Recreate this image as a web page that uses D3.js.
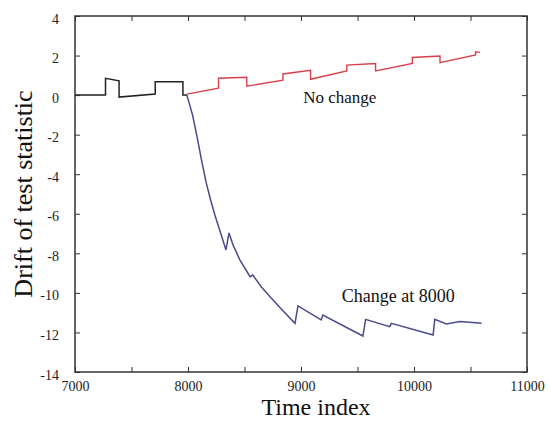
<!DOCTYPE html>
<html>
<head>
<meta charset="utf-8">
<script src="https://cdn.jsdelivr.net/npm/d3@7"></script>
<style>
  body { margin: 0; background: #fff; }
  svg { display: block; }
  svg text { font-family: "Liberation Serif", "Times New Roman", serif; }
</style>
</head>
<body>
<svg></svg>
<script>
const width = 551,
    height = 422;

const svg = d3.select("svg")
    .attr("width", width)
    .attr("height", height);

// drift before the split (shared by both runs)
const preTime = [7000, 7270, 7270, 7390, 7390, 7710, 7710, 7955, 7955, 7990];
const preDrift = [0, 0, 0.85, 0.72, -0.1, 0.05, 0.68, 0.68, 0.0, 0.0];

// no change in the data
const noChangeTime = [7990, 8270, 8270, 8520, 8520, 8840, 8840, 9085, 9085, 9405, 9405, 9660, 9660, 9985, 9985, 10230, 10230, 10545, 10545, 10585];
const noChangeDrift = [0.05, 0.35, 0.85, 0.9, 0.45, 0.76, 1.07, 1.25, 0.8, 1.22, 1.52, 1.6, 1.22, 1.6, 1.9, 1.98, 1.64, 2.03, 2.19, 2.16];

// change at 8000
const changeTime = [7990, 8040, 8080, 8120, 8160, 8200, 8240, 8290, 8336, 8363, 8400, 8460, 8549, 8573, 8650, 8726, 8840, 8947, 8973, 9179, 9193, 9548, 9572, 9785, 9800, 10169, 10184, 10287, 10406, 10598];
const changeDrift = [0, -1.0, -2.1, -3.3, -4.4, -5.3, -6.1, -7.0, -7.83, -6.97, -7.6, -8.34, -9.18, -9.1, -9.7, -10.2, -10.9, -11.54, -10.66, -11.37, -11.12, -12.18, -11.34, -11.71, -11.54, -12.13, -11.34, -11.57, -11.45, -11.54];

const xTicks = d3.range(7000, 11001, 500);
const xLabels = [7000, 8000, 9000, 10000, 11000];
const yTicks = d3.range(-14, 5, 2);

const annotations = [
    { text: "No change", t: 9020, v: -0.4, size: 17 },
    { text: "Change at 8000", t: 9360, v: -10.45, size: 18 }
];

const margin = { left: 75, top: 16, right: 24, bottom: 50 };
const plotW = width - margin.left - margin.right,
    plotH = height - margin.top - margin.bottom;

const x = d3.scaleLinear().domain([7000, 11000]).range([margin.left, margin.left + plotW]);
const y = d3.scaleLinear().domain([-14, 4]).range([margin.top + plotH, margin.top]);

const fmt = d => String(d);

// axes with inward ticks
svg.append("g")
    .attr("transform", `translate(0,${margin.top + plotH})`)
    .call(d3.axisBottom(x).tickValues(xTicks).tickSizeInner(-5).tickSizeOuter(0).tickPadding(9)
        .tickFormat(d => xLabels.includes(d) ? fmt(d) : ""))
    .call(g => g.select(".domain").remove());

svg.append("g")
    .attr("transform", `translate(0,${margin.top})`)
    .call(d3.axisTop(x).tickValues(xTicks).tickSizeInner(-5).tickSizeOuter(0).tickFormat(""))
    .call(g => g.select(".domain").remove());

svg.append("g")
    .attr("transform", `translate(${margin.left},0)`)
    .call(d3.axisLeft(y).tickValues(yTicks).tickSizeInner(-5).tickSizeOuter(0).tickPadding(16).tickFormat(fmt))
    .call(g => g.select(".domain").remove())
    .call(g => g.selectAll("text").attr("dy", "0.5em"));

svg.append("g")
    .attr("transform", `translate(${margin.left + plotW},0)`)
    .call(d3.axisRight(y).tickValues(yTicks).tickSizeInner(-5).tickSizeOuter(0).tickFormat(""))
    .call(g => g.select(".domain").remove());

svg.selectAll("g").attr("font-family", null);
svg.selectAll(".tick text")
    .style("font-family", "'Liberation Serif', serif")
    .attr("font-size", 14)
    .attr("fill", "#222");
svg.selectAll(".tick line").attr("stroke", "#333");

svg.append("rect")
    .attr("x", margin.left)
    .attr("y", margin.top)
    .attr("width", plotW)
    .attr("height", plotH)
    .attr("fill", "none")
    .attr("stroke", "#333")
    .attr("stroke-width", 1.5);

const line = d3.line()
    .x(d => x(d[0]))
    .y(d => y(d[1]));

svg.append("path")
    .datum(d3.zip(noChangeTime, noChangeDrift))
    .attr("d", line)
    .attr("fill", "none")
    .attr("stroke", "#d8404c")
    .attr("stroke-width", 1.4);

svg.append("path")
    .datum(d3.zip(changeTime, changeDrift))
    .attr("d", line)
    .attr("fill", "none")
    .attr("stroke", "#4a4a8c")
    .attr("stroke-width", 1.5);

svg.append("path")
    .datum(d3.zip(preTime, preDrift))
    .attr("d", line)
    .attr("fill", "none")
    .attr("stroke", "#222")
    .attr("stroke-width", 1.5);

svg.selectAll(".note")
    .data(annotations)
    .join("text")
    .attr("class", "note")
    .attr("x", d => x(d.t))
    .attr("y", d => y(d.v))
    .attr("font-size", d => d.size)
    .attr("fill", "#111")
    .text(d => d.text);

svg.append("text")
    .attr("x", 316)
    .attr("y", 415)
    .attr("text-anchor", "middle")
    .attr("font-size", 24)
    .attr("fill", "#111")
    .text("Time index");

svg.append("text")
    .attr("transform", "translate(32,194) rotate(-90)")
    .attr("text-anchor", "middle")
    .attr("font-size", 26)
    .attr("fill", "#111")
    .text("Drift of test statistic");
</script>
</body>
</html>
